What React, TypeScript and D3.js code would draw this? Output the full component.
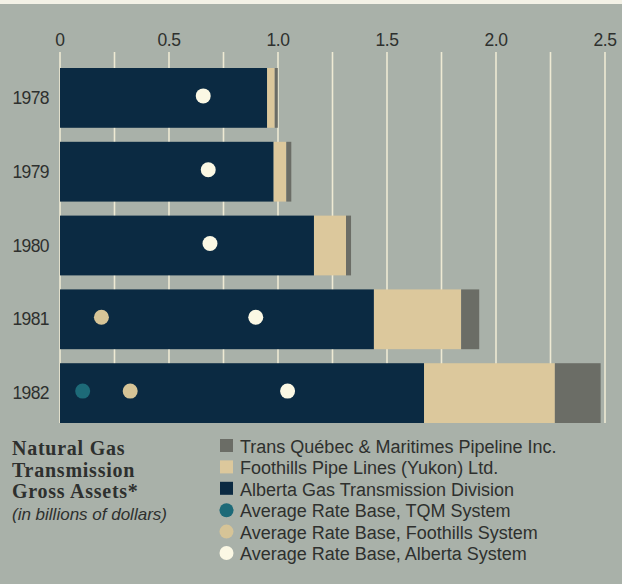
import React from "react";
import * as d3 from "d3";

// Natural gas transmission gross assets, billions of dollars
const years = ["1978", "1979", "1980", "1981", "1982"];
const albertaDivision = [0.95, 0.98, 1.165, 1.44, 1.67];
const foothillsPipe = [0.035, 0.058, 0.147, 0.4, 0.6];
const transQuebec = [0.014, 0.023, 0.023, 0.083, 0.21];

// Average rate base markers (null where no system existed)
const rateAlberta = [0.657, 0.68, 0.688, 0.898, 1.044];
const rateFoothills: (number | null)[] = [null, null, null, 0.19, 0.322];
const rateTqm: (number | null)[] = [null, null, null, null, 0.104];

const axisTicks = [0, 0.25, 0.5, 0.75, 1, 1.25, 1.5, 1.75, 2, 2.25, 2.5];

const W = 622;
const H = 584;

const C = {
  bg: "#a9b1a9",
  top: "#f3f1e6",
  navy: "#0b2a42",
  cream: "#dcc89c",
  gray: "#6b6d66",
  grid: "#eeead4",
  text: "#2e302e",
  dotAlberta: "#fbf8e4",
  dotFoothills: "#d6c497",
  dotTqm: "#1d6a78",
};

const keys = ["alberta", "foothills", "tqm"] as const;
const fills: Record<string, string> = {
  alberta: C.navy,
  foothills: C.cream,
  tqm: C.gray,
};

const rows = years.map((y, i) => ({
  year: y,
  alberta: albertaDivision[i],
  foothills: foothillsPipe[i],
  tqm: transQuebec[i],
}));

const legendItems = [
  { label: "Trans Québec & Maritimes Pipeline Inc.", kind: "rect", color: C.gray },
  { label: "Foothills Pipe Lines (Yukon) Ltd.", kind: "rect", color: C.cream },
  { label: "Alberta Gas Transmission Division", kind: "rect", color: C.navy },
  { label: "Average Rate Base, TQM System", kind: "dot", color: C.dotTqm },
  { label: "Average Rate Base, Foothills System", kind: "dot", color: C.dotFoothills },
  { label: "Average Rate Base, Alberta System", kind: "dot", color: C.dotAlberta },
];

const titleLines = ["Natural Gas", "Transmission", "Gross Assets*"];

export default function App() {
  const x = d3.scaleLinear().domain([0, 2.5]).range([60, 605]);
  const y = d3
    .scaleBand<string>()
    .domain(years)
    .range([68, 423])
    .paddingInner(0.19)
    .paddingOuter(0);
  const bw = y.bandwidth();

  const series = d3.stack<any>().keys(keys as any)(rows);
  const fmt = (v: number) => (v === 0 ? "0" : d3.format(".1f")(v));

  const sans = "'Liberation Sans', Arial, sans-serif";
  const serif = "'Liberation Serif', 'Times New Roman', serif";

  const dotSets = [
    { values: rateTqm, color: C.dotTqm },
    { values: rateFoothills, color: C.dotFoothills },
    { values: rateAlberta as (number | null)[], color: C.dotAlberta },
  ];

  return (
    <div style={{ position: "fixed", left: 0, top: 0 }}>
      <svg width={W} height={H} style={{ display: "block" }}>
        <rect x={0} y={0} width={W} height={H} fill={C.bg} />
        <rect x={0} y={0} width={W} height={4} fill={C.top} />

        {/* axis labels */}
        {axisTicks
          .filter((t) => Math.round(t * 100) % 50 === 0)
          .map((t) => (
            <text
              key={"l" + t}
              x={x(t)}
              y={46}
              textAnchor="middle"
              fontFamily={sans}
              fontSize={17.5}
              fill={C.text}
              letterSpacing={-0.4}
            >
              {fmt(t)}
            </text>
          ))}

        {/* tick marks continuing as grid lines */}
        {axisTicks.map((t) => (
          <line
            key={"g" + t}
            x1={x(t)}
            x2={x(t)}
            y1={52}
            y2={423}
            stroke={C.grid}
            strokeWidth={1.6}
          />
        ))}

        {/* stacked bars */}
        {series.map((s) =>
          s.map((d, i) => (
            <rect
              key={s.key + i}
              x={x(d[0])}
              y={y(years[i])!}
              width={x(d[1]) - x(d[0])}
              height={bw}
              fill={fills[s.key]}
            />
          ))
        )}

        {/* rate base markers */}
        {dotSets.map((ds, k) =>
          ds.values.map((v, i) =>
            v == null ? null : (
              <circle
                key={"d" + k + i}
                cx={x(v)}
                cy={y(years[i])! + bw / 2 - 2}
                r={7.5}
                fill={ds.color}
              />
            )
          )
        )}

        {/* year labels */}
        {years.map((yr) => (
          <text
            key={yr}
            x={49}
            y={y(yr)! + bw / 2 + 6}
            textAnchor="end"
            fontFamily={sans}
            fontSize={17.5}
            fill={C.text}
            letterSpacing={-0.6}
          >
            {yr}
          </text>
        ))}

        {/* title */}
        {titleLines.map((t, i) => (
          <text
            key={t}
            x={12}
            y={455 + i * 21.5}
            fontFamily={serif}
            fontWeight="bold"
            fontSize={20}
            fill={C.text}
            letterSpacing={0.75}
          >
            {t}
          </text>
        ))}
        <text
          x={12}
          y={520}
          fontFamily={sans}
          fontStyle="italic"
          fontSize={17}
          fill={C.text}
        >
          (in billions of dollars)
        </text>

        {/* legend */}
        {legendItems.map((it, i) => {
          const by = 453 + i * 21.4;
          return (
            <g key={it.label}>
              {it.kind === "rect" ? (
                <rect x={220} y={by - 14} width={13} height={13} fill={it.color} />
              ) : (
                <circle cx={226.5} cy={by - 7} r={7} fill={it.color} />
              )}
              <text x={240} y={by} fontFamily={sans} fontSize={18} fill={C.text}>
                {it.label}
              </text>
            </g>
          );
        })}
      </svg>
    </div>
  );
}
